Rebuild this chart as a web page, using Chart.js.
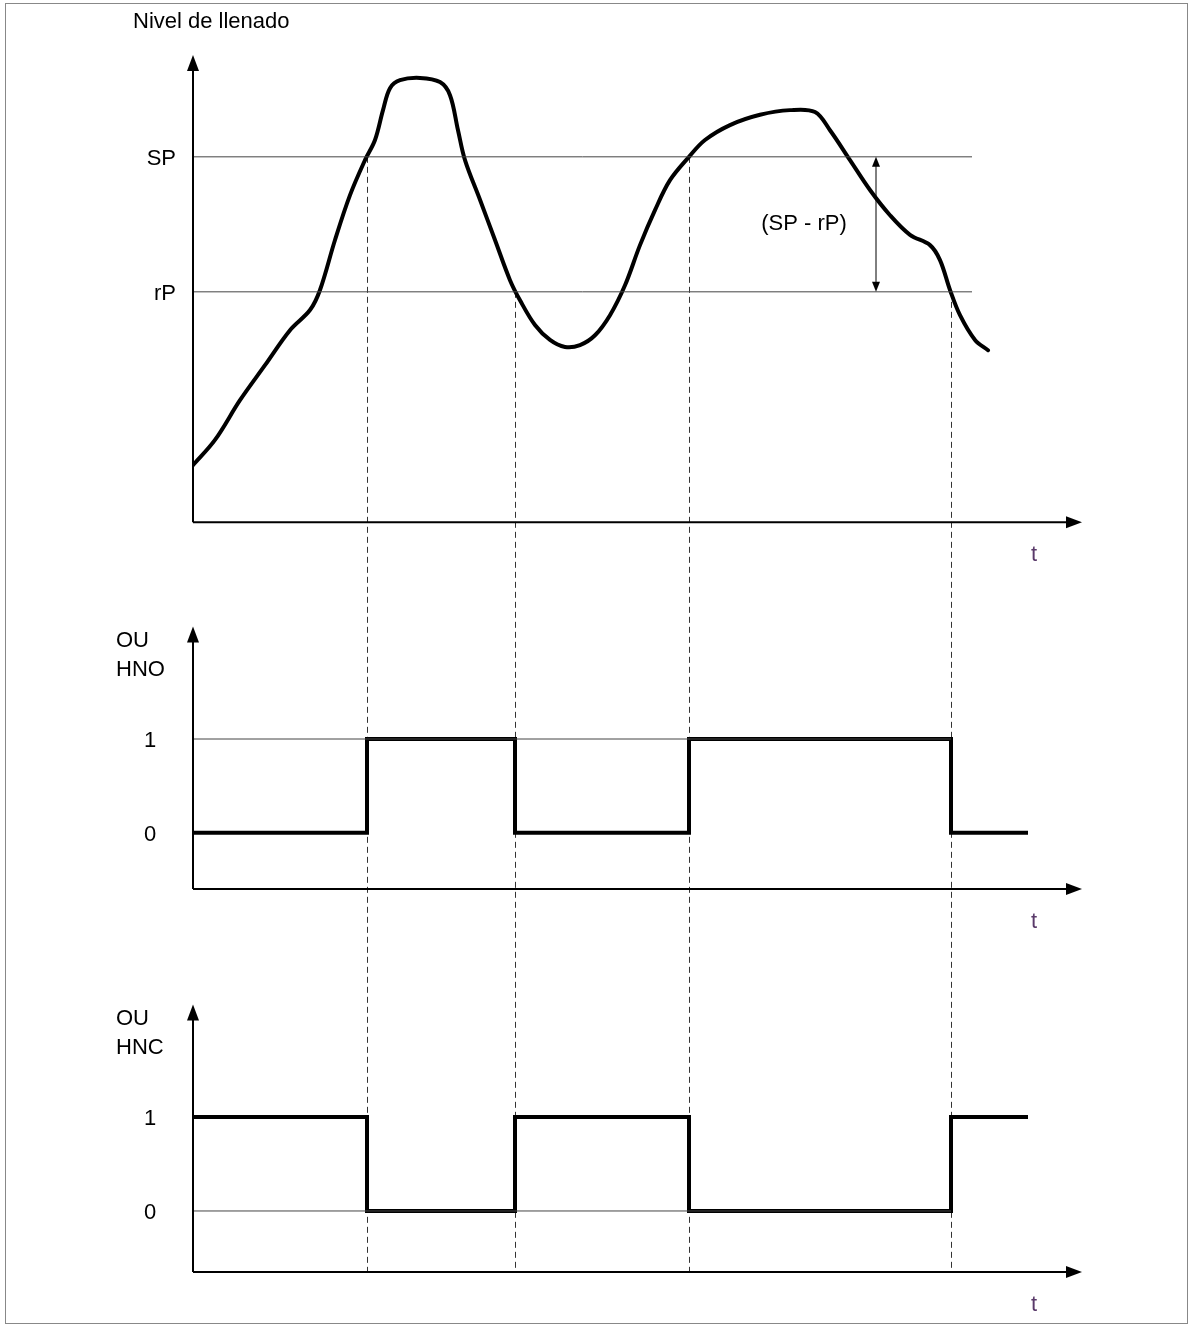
<!DOCTYPE html>
<html>
<head>
<meta charset="utf-8">
<script src="https://cdn.jsdelivr.net/npm/chart.js@4"></script>
<style>
  body { margin: 0; background: #fff; }
  #wrap { position: relative; width: 1193px; height: 1328px; }
  #frame { position: absolute; left: 5px; top: 3px; width: 1183px; height: 1321px; border: 1px solid #888; box-sizing: border-box; pointer-events: none; }
</style>
</head>
<body>
<div id="wrap">
  <canvas id="chart" width="1193" height="1328"></canvas>
  <div id="frame"></div>
</div>
<script>
// --- DATA ---
const levelT = [0, 2.2, 4.7, 7.2, 9.7, 11.7, 12.7, 14.2, 15.7, 17.2, 18.2, 19, 19.7, 20.7, 22.7, 24.7, 25.7, 26.5, 27.2, 28.7, 30.2, 31.7, 32.7, 34.2, 35.7, 37.2, 38.7, 40.2, 41.7, 43.2, 44.7, 46.2, 47.7, 49.6, 51.2, 53.7, 56.7, 59.7, 62.2, 63.7, 65.7, 67.7, 69.7, 71.7, 73.7, 74.7, 75.7, 76.7, 78.2, 79.5];
const levelV = [12.2, 17.6, 26.1, 33.6, 41.1, 45.4, 49.7, 60.4, 70, 77.5, 81.8, 88.2, 92.9, 94.6, 95.1, 94.2, 91.4, 83.9, 77.5, 69, 60.4, 51.8, 47.5, 42.2, 39, 37.5, 37.9, 40, 44.3, 50.7, 59.3, 66.8, 73.2, 78.2, 81.8, 85, 87.2, 88.2, 87.8, 83.9, 77.5, 71.1, 65.7, 61.5, 59.3, 56.1, 49.7, 44.3, 39, 36.8];
const SP = 78.2;
const rP = 49.3;
const thresholdEnd = 77.9;

// switching instants and the level crossed at each one
const switchT = [17.4, 32.2, 49.6, 75.8];
const switchLevel = [SP, rP, SP, rP];

const signalT = [0, 17.4, 17.4, 32.2, 32.2, 49.6, 49.6, 75.8, 75.8, 83.5];
const hnoV = [0, 0, 1, 1, 0, 0, 1, 1, 0, 0];
const hncV = [1, 1, 0, 0, 1, 1, 0, 0, 1, 1];

const tEnd = 88.9;
const tLabelPos = 96.0 - 12.2;
const panelTitles = [['Nivel de llenado'], ['OU', 'HNO'], ['OU', 'HNC']];
const panelTicks = [[SP, rP], [1, 0], [1, 0]];
const panelTickLabels = [['SP', 'rP'], ['1', '0'], ['1', '0']];

// --- CHART ---
const pts = (xs, ys) => xs.map((x, i) => ({ x: x, y: ys[i] }));
const FONT = '22px "Liberation Sans", Arial, sans-serif';

const panels = [
  { id: 'y1', min: -11.1, max: 100, base: 0, top: 100, weight: 519 },
  { id: 'y2', min: -0.6, max: 2.76, base: -0.6, top: 2.2, weight: 315 },
  { id: 'y3', min: -0.65, max: 3.43, base: -0.65, top: 2.2, weight: 383 }
];

const diagramPlugin = {
  id: 'diagram',
  beforeDatasetsDraw(chart) {
    const ctx = chart.ctx, x = chart.scales.x, y1 = chart.scales.y1, y3 = chart.scales.y3;
    ctx.save();
    ctx.strokeStyle = '#333';
    ctx.lineWidth = 1;
    ctx.setLineDash([6, 4]);
    switchT.forEach((t, i) => {
      const px = Math.round(x.getPixelForValue(t)) + 0.5;
      ctx.beginPath();
      ctx.moveTo(px, y1.getPixelForValue(switchLevel[i]));
      ctx.lineTo(px, y3.getPixelForValue(-0.65));
      ctx.stroke();
    });
    ctx.restore();
  },
  afterDatasetsDraw(chart) {
    const ctx = chart.ctx, x = chart.scales.x;
    ctx.save();
    ctx.strokeStyle = '#000';
    ctx.fillStyle = '#000';
    ctx.lineWidth = 2;
    panels.forEach((p, i) => {
      const ys = chart.scales[p.id];
      const x0 = x.getPixelForValue(0), x1 = x.getPixelForValue(tEnd);
      const yb = ys.getPixelForValue(p.base), yt = ys.getPixelForValue(p.top);
      ctx.beginPath();
      ctx.moveTo(x0, yb); ctx.lineTo(x0, yt + 10);
      ctx.moveTo(x0, yb); ctx.lineTo(x1 - 12, yb);
      ctx.stroke();
      ctx.beginPath();
      ctx.moveTo(x0, yt); ctx.lineTo(x0 - 6, yt + 16); ctx.lineTo(x0 + 6, yt + 16); ctx.closePath();
      ctx.fill();
      ctx.beginPath();
      ctx.moveTo(x1, yb); ctx.lineTo(x1 - 16, yb - 6); ctx.lineTo(x1 - 16, yb + 6); ctx.closePath();
      ctx.fill();

      ctx.font = FONT;
      ctx.textBaseline = 'middle';
      ctx.fillStyle = '#5a3a6a';
      ctx.textAlign = 'left';
      ctx.fillText('t', x.getPixelForValue(tLabelPos), yb + 33);
      ctx.fillStyle = '#000';
      panelTicks[i].forEach((v, k) => {
        ctx.textAlign = i === 0 ? 'right' : 'center';
        ctx.fillText(panelTickLabels[i][k], i === 0 ? 176 : 150, ys.getPixelForValue(v) + 2);
      });
      ctx.textAlign = 'left';
      if (i === 0) {
        ctx.fillText(panelTitles[0][0], 133, 22);
      } else {
        panelTitles[i].forEach((s, k) => ctx.fillText(s, 116, yt + 14 + k * 29));
      }
    });
    // (SP - rP) dimension
    const y1 = chart.scales.y1;
    const ax = 876, ySP = y1.getPixelForValue(SP), yRP = y1.getPixelForValue(rP);
    ctx.lineWidth = 1;
    ctx.beginPath(); ctx.moveTo(ax, ySP + 4); ctx.lineTo(ax, yRP - 4); ctx.stroke();
    ctx.beginPath(); ctx.moveTo(ax, ySP); ctx.lineTo(ax - 4, ySP + 10); ctx.lineTo(ax + 4, ySP + 10); ctx.closePath(); ctx.fill();
    ctx.beginPath(); ctx.moveTo(ax, yRP); ctx.lineTo(ax - 4, yRP - 10); ctx.lineTo(ax + 4, yRP - 10); ctx.closePath(); ctx.fill();
    ctx.textAlign = 'center';
    ctx.fillText('(SP - rP)', 804, 224);
    ctx.restore();
  }
};

const hiddenY = (p) => ({
  type: 'linear', min: p.min, max: p.max, stack: 'panels', stackWeight: p.weight,
  grid: { display: false }, border: { display: false }, ticks: { display: false },
  afterFit: s => { s.width = 0; }
});

const thin = { borderColor: '#444', borderWidth: 1, pointRadius: 0, fill: false };
const thick = { borderColor: '#000', borderWidth: 4, pointRadius: 0, fill: false, borderJoinStyle: 'miter' };

// stacked axes are placed bottom-up, so the lowest panel is declared first
new Chart(document.getElementById('chart'), {
  type: 'line',
  data: {
    datasets: [
      { ...thin, yAxisID: 'y1', data: pts([0, thresholdEnd], [SP, SP]) },
      { ...thin, yAxisID: 'y1', data: pts([0, thresholdEnd], [rP, rP]) },
      { ...thin, yAxisID: 'y2', data: pts([0, switchT[3]], [1, 1]) },
      { ...thin, yAxisID: 'y3', data: pts([0, switchT[3]], [0, 0]) },
      { ...thick, yAxisID: 'y1', data: pts(levelT, levelV), tension: 0.35, borderJoinStyle: 'round', borderCapStyle: 'round' },
      { ...thick, yAxisID: 'y2', data: pts(signalT, hnoV) },
      { ...thick, yAxisID: 'y3', data: pts(signalT, hncV) }
    ]
  },
  options: {
    responsive: false,
    animation: false,
    layout: { padding: { left: 193, right: 111, top: 55, bottom: 56 } },
    plugins: { legend: { display: false }, tooltip: { enabled: false } },
    scales: {
      x: { type: 'linear', min: 0, max: tEnd, display: false },
      y3: hiddenY(panels[2]),
      y2: hiddenY(panels[1]),
      y1: hiddenY(panels[0])
    }
  },
  plugins: [diagramPlugin]
});
</script>
</body>
</html>
